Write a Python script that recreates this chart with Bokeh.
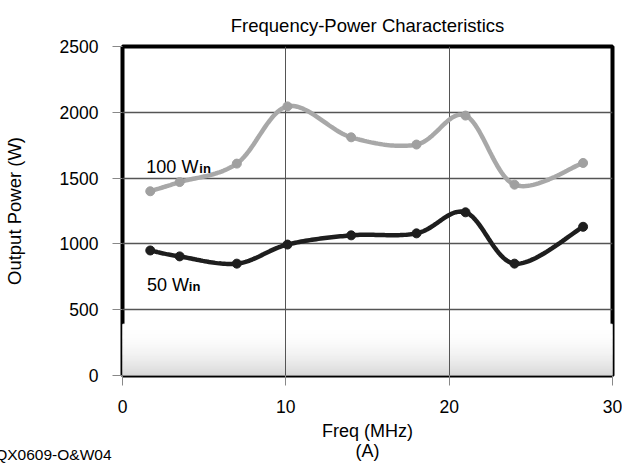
import numpy as np
from bokeh.plotting import figure
from bokeh.models import Label, Range1d, FixedTicker, Title
from bokeh.embed import file_html
from bokeh.resources import INLINE

# ---- data ----
freq_mhz = [1.7, 3.5, 7.0, 10.1, 14.0, 18.0, 21.0, 24.0, 28.2]
power_100w = [1400, 1470, 1610, 2045, 1810, 1755, 1975, 1450, 1615]
power_50w = [950, 905, 850, 995, 1065, 1080, 1240, 850, 1130]
x_ticks = [0, 10, 20, 30]
y_ticks = [0, 500, 1000, 1500, 2000, 2500]

FONT = "Liberation Sans"


def smooth(xs, ys, n=30):
    """Uniform Catmull-Rom curve through the points (spreadsheet 'smoothed line' look)."""
    P = np.column_stack([xs, ys]).astype(float)
    P = np.vstack([P[0], P, P[-1]])
    t = np.linspace(0, 1, n, endpoint=False)[:, None]
    segs = []
    for i in range(1, len(P) - 2):
        p0, p1, p2, p3 = P[i - 1], P[i], P[i + 1], P[i + 2]
        seg = 0.5 * ((2 * p1) + (-p0 + p2) * t
                     + (2 * p0 - 5 * p1 + 4 * p2 - p3) * t ** 2
                     + (-p0 + 3 * p1 - 3 * p2 + p3) * t ** 3)
        segs.append(seg)
    segs.append(P[-2][None, :])
    a = np.vstack(segs)
    return a[:, 0], a[:, 1]


p = figure(width=622, height=463, output_backend="svg", toolbar_location=None, tools="",
           x_range=Range1d(0, 30), y_range=Range1d(0, 2500),
           min_border_left=120, min_border_right=10, min_border_top=46, min_border_bottom=88)
p.background_fill_color = "white"
p.border_fill_color = "white"
p.outline_line_color = "black"
p.outline_line_width = 4

# title
p.title.text = "Frequency-Power Characteristics"
p.title.align = "center"
p.title.text_font = FONT
p.title.text_font_size = "18.5px"
p.title.text_font_style = "normal"
p.title.text_color = "black"
p.title.standoff = 22

# soft grey gradient at the bottom of the plot area (one strip list, hex colours)
n_strips = 48
top = 390.0
g_bottom = [top * i / n_strips for i in range(n_strips)]
g_top = [top * (i + 1) / n_strips for i in range(n_strips)]
g_col = []
for i in range(n_strips):
    f = 1 - (i + 0.5) / n_strips
    g = int(round(255 - 40 * f ** 2.0))
    g_col.append("#%02x%02x%02x" % (g, g, g))
p.quad(left=[0] * n_strips, right=[30] * n_strips, bottom=g_bottom, top=g_top,
       fill_color=g_col, line_color=g_col, line_width=1, level="image")

# grids
p.xgrid.ticker = FixedTicker(ticks=[10, 20])
p.ygrid.ticker = FixedTicker(ticks=[500, 1000, 1500, 2000])
p.xgrid.grid_line_color = "#555555"
p.xgrid.grid_line_width = 1
p.ygrid.grid_line_color = "#555555"
p.ygrid.grid_line_width = 1.6

# axes
for ax, ticks in ((p.xaxis, x_ticks), (p.yaxis, y_ticks)):
    ax.ticker = FixedTicker(ticks=ticks)
    ax.axis_line_color = None
    ax.major_tick_line_color = "#888888"
    ax.major_tick_out = 10
    ax.major_tick_in = 0
    ax.minor_tick_line_color = None
    ax.major_label_text_font = FONT
    ax.major_label_text_font_size = "17.5px"
    ax.major_label_text_color = "black"
    ax.major_label_standoff = 14
    ax.axis_label_text_font = FONT
    ax.axis_label_text_font_style = "normal"
    ax.axis_label_text_color = "black"

p.yaxis.axis_label = "Output Power (W)"
p.yaxis.axis_label_text_font_size = "18.5px"
p.yaxis.axis_label_standoff = 32
p.xaxis.axis_label = "Freq (MHz)\n(A)"
p.xaxis.axis_label_text_font_size = "18px"
p.xaxis.axis_label_text_line_height = 1.0
p.xaxis.axis_label_standoff = 5

# figure code at the bottom-left corner
code = Title(text="QX0609-O&W04", align="right", offset=501, vertical_align="top",
             standoff=-35, text_font=FONT, text_font_size="15.5px",
             text_font_style="normal", text_color="black")
p.add_layout(code, "below")

# series
x1, y1 = smooth(freq_mhz, power_100w)
p.line(x1, y1, line_color="#a8a8a8", line_width=4.5)
p.scatter(freq_mhz, power_100w, size=9, fill_color="#a0a0a0", line_color="#a0a0a0")

x2, y2 = smooth(freq_mhz, power_50w)
p.line(x2, y2, line_color="#1e1e1e", line_width=4.5)
p.scatter(freq_mhz, power_50w, size=9, fill_color="#1e1e1e", line_color="#1e1e1e")


def lab(x, y, text, size, bold=False):
    p.add_layout(Label(x=x, y=y, text=text, text_font=FONT, text_font_size=size,
                       text_align="left", text_baseline="alphabetic",
                       text_font_style="bold" if bold else "normal", text_color="black"))


# series annotations
lab(1.46, 1588, "100 W", "18px")
lab(4.70, 1573, "in", "13px", bold=True)
lab(1.50, 691, "50 W", "18px")
lab(4.06, 676, "in", "13px", bold=True)

open("out.html", "w").write(file_html(p, INLINE))
